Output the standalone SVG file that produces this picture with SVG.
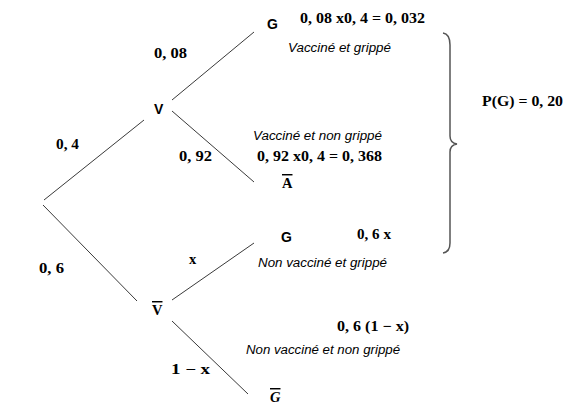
<svg xmlns="http://www.w3.org/2000/svg" width="579" height="407" viewBox="0 0 579 407">
<style>
.bg{fill:#fff}
.edge{stroke:#3a3a3a;stroke-width:1;fill:none}
.brace{stroke:#555;stroke-width:1.5;fill:none}
.node{font-family:"Liberation Sans",Arial,sans-serif;font-weight:bold;font-size:14px;fill:#000}
.math{font-family:"Liberation Serif","Times New Roman",serif;font-weight:bold;font-size:14.5px;fill:#000}
.note{font-family:"Liberation Sans",Arial,sans-serif;font-style:italic;font-size:12.5px;fill:#000}
.ov{text-decoration:overline}
</style>
<rect class="bg" x="0" y="0" width="579" height="407"/>
<g id="connectors">
<line class="edge" x1="44" y1="200" x2="144" y2="120"/>
<line class="edge" x1="43" y1="205" x2="137" y2="301"/>
<line class="edge" x1="172" y1="100" x2="254" y2="32"/>
<line class="edge" x1="172" y1="111" x2="254" y2="182"/>
<line class="edge" x1="172" y1="300" x2="254" y2="243"/>
<line class="edge" x1="172" y1="321" x2="248" y2="394"/>
<text class="math" x="154" y="58" textLength="33" lengthAdjust="spacingAndGlyphs">0, 08</text>
<text class="math" x="56" y="149" textLength="23" lengthAdjust="spacingAndGlyphs">0, 4</text>
<text class="math" x="179" y="161" textLength="33" lengthAdjust="spacingAndGlyphs">0, 92</text>
<text class="math" x="39" y="273" textLength="25" lengthAdjust="spacingAndGlyphs">0, 6</text>
<text class="math" x="189" y="264">x</text>
<text class="math" x="171" y="374" textLength="39" lengthAdjust="spacingAndGlyphs">1 − x</text>
</g>
<g id="node-V"><text class="node" x="154" y="114">V</text></g>
<g id="node-Vbar"><text class="math ov" x="152" y="315">V</text></g>
<g id="node-G1">
<text class="node" x="267" y="29">G</text>
<text class="math" x="300" y="23" textLength="125" lengthAdjust="spacingAndGlyphs">0, 08 x0, 4 = 0, 032</text>
<text class="note" x="288" y="52" textLength="103" lengthAdjust="spacingAndGlyphs">Vacciné et grippé</text>
</g>
<g id="node-Abar">
<text class="note" x="253" y="140" textLength="129" lengthAdjust="spacingAndGlyphs">Vacciné et non grippé</text>
<text class="math" x="257" y="161" textLength="125" lengthAdjust="spacingAndGlyphs">0, 92 x0, 4 = 0, 368</text>
<text class="math ov" x="282" y="188">A</text>
</g>
<g id="node-G2">
<text class="node" x="281" y="242">G</text>
<text class="math" x="357" y="239" textLength="34" lengthAdjust="spacingAndGlyphs">0, 6 x</text>
<text class="note" x="258" y="267" textLength="129" lengthAdjust="spacingAndGlyphs">Non vacciné et grippé</text>
</g>
<g id="node-Gbar">
<text class="math" x="337" y="331" textLength="72" lengthAdjust="spacingAndGlyphs">0, 6 (1 − x)</text>
<text class="note" x="246" y="354" textLength="154" lengthAdjust="spacingAndGlyphs">Non vacciné et non grippé</text>
<text class="math ov" x="270" y="402" font-style="italic">G</text>
</g>
<g id="brace-PG">
<path class="brace" d="M443,33 Q450,34 450,45 L450,136 Q450,143 457,144 Q450,145 450,152 L450,243 Q450,252 443,253"/>
<text class="math" x="482" y="106" textLength="81" lengthAdjust="spacingAndGlyphs">P(G) = 0, 20</text>
</g>
</svg>
